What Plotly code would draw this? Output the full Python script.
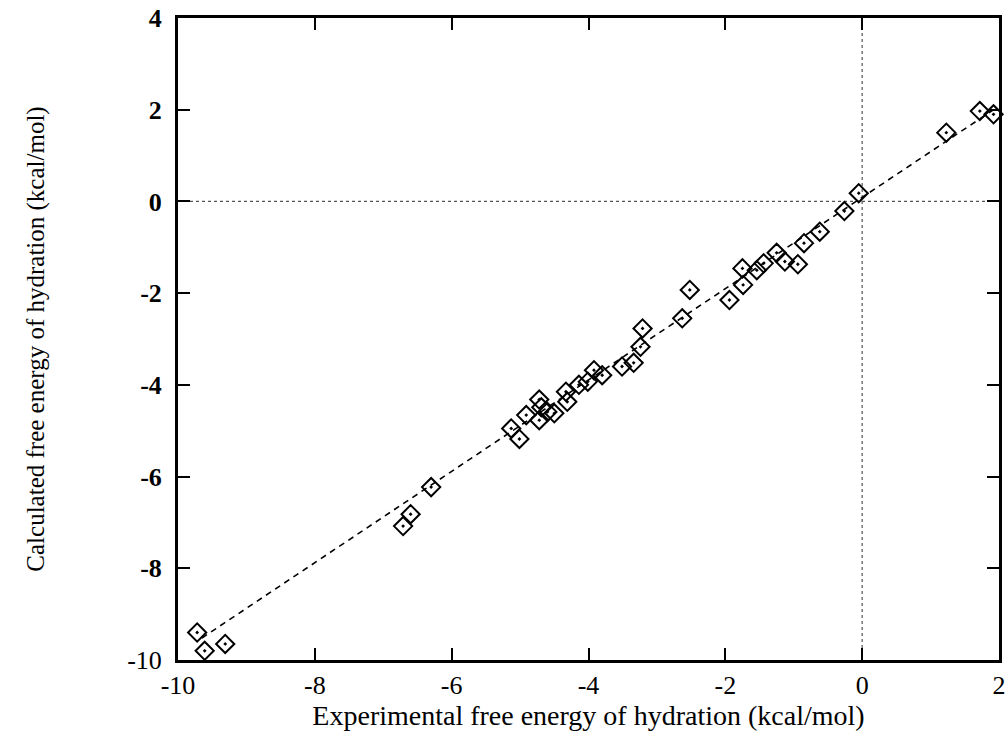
import plotly.graph_objects as go

# Experimental vs calculated free energies of hydration (kcal/mol)
exp_vals = [-9.72, -9.61, -9.31, -6.71, -6.60, -6.30, -5.13, -5.01, -4.91, -4.72,
            -4.69, -4.72, -4.60, -4.50, -4.33, -4.31, -4.14, -4.01, -3.92, -3.80,
            -3.51, -3.34, -3.24, -3.21, -2.63, -2.52, -1.94, -1.74, -1.75, -1.54,
            -1.44, -1.25, -1.13, -0.94, -0.85, -0.62, -0.26, -0.05, 1.23, 1.72, 1.92]
calc_vals = [-9.40, -9.80, -9.65, -7.08, -6.82, -6.23, -4.95, -5.18, -4.66, -4.32,
             -4.49, -4.77, -4.59, -4.62, -4.15, -4.37, -4.00, -3.93, -3.68, -3.79,
             -3.60, -3.52, -3.17, -2.77, -2.55, -1.93, -2.15, -1.82, -1.46, -1.50,
             -1.35, -1.12, -1.31, -1.37, -0.91, -0.66, -0.21, 0.18, 1.50, 1.97, 1.90]

# fitted line endpoints
fit_x = [-9.65, 1.95]
fit_y = [-9.52, 2.03]

x_ticks = [-10, -8, -6, -4, -2, 0, 2]
y_ticks = [-10, -8, -6, -4, -2, 0, 2, 4]

fig = go.Figure()

fig.add_trace(go.Scatter(
    x=fit_x, y=fit_y, mode="lines",
    line=dict(color="black", width=1.6, dash="6px,5px"),
    showlegend=False, hoverinfo="skip"))

fig.add_trace(go.Scatter(
    x=exp_vals, y=calc_vals, mode="markers",
    marker=dict(symbol="diamond-open-dot", size=14, color="black",
                line=dict(width=2, color="black")),
    cliponaxis=False, showlegend=False))

fig.add_shape(type="line", xref="x", yref="y", x0=0, x1=0, y0=-10, y1=4,
              line=dict(color="#555555", width=1.2, dash="dot"), layer="below")
fig.add_shape(type="line", xref="x", yref="y", x0=-10, x1=2, y0=0, y1=0,
              line=dict(color="#555555", width=1.2, dash="dot"), layer="below")

font_family = "Liberation Serif"

fig.update_layout(
    width=1006, height=735,
    margin=dict(l=178, r=7, t=18, b=75),
    paper_bgcolor="white", plot_bgcolor="white",
    font=dict(family=font_family, color="black"),
    xaxis=dict(
        range=[-10, 2], tickmode="array", tickvals=x_ticks,
        ticktext=[str(v) for v in x_ticks],
        ticks="inside", ticklen=12, tickwidth=2, tickcolor="black",
        showline=True, linewidth=3, linecolor="black", mirror="ticks",
        showgrid=False, zeroline=False, automargin=False,
        ticklabeloverflow="allow",
        tickfont=dict(size=26, family=font_family),
        title=dict(text="Experimental free energy of hydration (kcal/mol)",
                   font=dict(size=28, family=font_family), standoff=2),
    ),
    yaxis=dict(
        range=[-10, 4], tickmode="array", tickvals=y_ticks,
        ticktext=[str(v) if v == -10 else "<b>%d</b>" % v for v in y_ticks],
        ticks="inside", ticklen=12, tickwidth=2, tickcolor="black",
        showline=True, linewidth=3, linecolor="black", mirror="ticks",
        showgrid=False, zeroline=False, automargin=False,
        ticklabelstandoff=8,
        tickfont=dict(size=26, family=font_family),
        title=dict(text="Calculated free energy of hydration (kcal/mol)",
                   font=dict(size=25, family=font_family), standoff=76),
    ),
)

fig.write_html("out.html")
